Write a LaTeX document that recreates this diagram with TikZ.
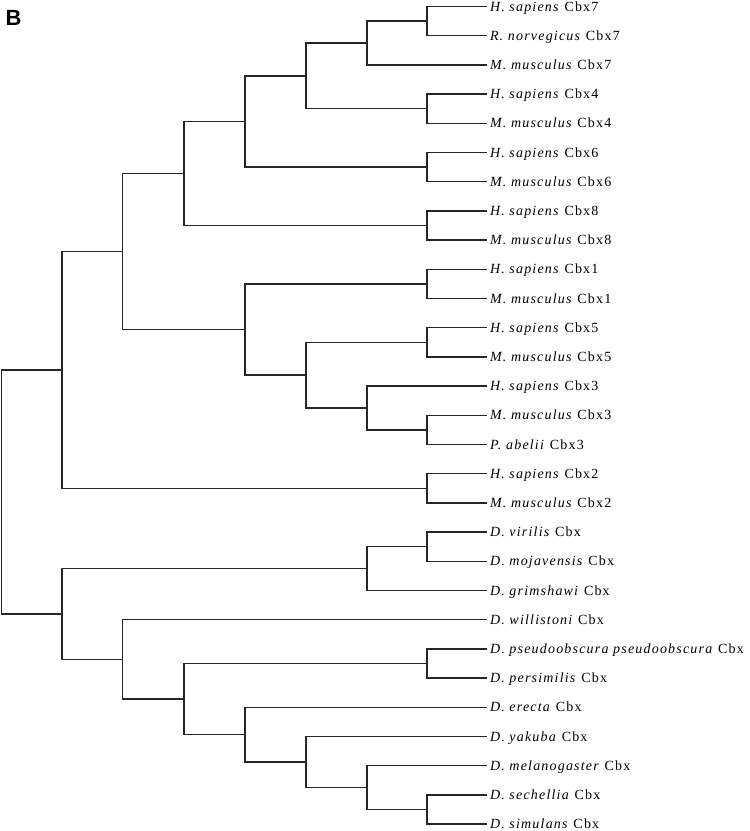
\documentclass[tikz,border=0pt]{standalone}
\usepackage{fontspec}
\setmainfont{Liberation Serif}
\newfontfamily\leaffont{Liberation Serif}[LetterSpace=8.5]
\newfontfamily\labfont{Liberation Sans}
\begin{document}
\begin{tikzpicture}[x=1pt,y=-29.2pt,
  branch/.style={line width=1.5pt,draw=black!85,line cap=rect,line join=miter},
  leaf/.style={anchor=west,inner sep=0pt,outer xsep=4pt,text height=9.3pt,text depth=0pt,
    font=\leaffont\fontsize{14}{16}\selectfont},
  panel/.style={anchor=base west,inner sep=0pt,font=\labfont\bfseries\fontsize{22}{24}\selectfont}]
\useasboundingbox (0,0) rectangle (750,{831/29.2});
\node[panel] (lab) at (5.5,0.856) {B};
\begin{scope}[yshift=-6.5pt]
% leaves
\foreach \i/\t in {
 0/{\textit{H. sapiens} Cbx7},
 1/{\textit{R. norvegicus} Cbx7},
 2/{\textit{M. musculus} Cbx7},
 3/{\textit{H. sapiens} Cbx4},
 4/{\textit{M. musculus} Cbx4},
 5/{\textit{H. sapiens} Cbx6},
 6/{\textit{M. musculus} Cbx6},
 7/{\textit{H. sapiens} Cbx8},
 8/{\textit{M. musculus} Cbx8},
 9/{\textit{H. sapiens} Cbx1},
 10/{\textit{M. musculus} Cbx1},
 11/{\textit{H. sapiens} Cbx5},
 12/{\textit{M. musculus} Cbx5},
 13/{\textit{H. sapiens} Cbx3},
 14/{\textit{M. musculus} Cbx3},
 15/{\textit{P. abelii} Cbx3},
 16/{\textit{H. sapiens} Cbx2},
 17/{\textit{M. musculus} Cbx2},
 18/{\textit{D. virilis} Cbx},
 19/{\textit{D. mojavensis} Cbx},
 20/{\textit{D. grimshawi} Cbx},
 21/{\textit{D. willistoni} Cbx},
 22/{\textit{D. pseudoobscura pseudoobscura} Cbx},
 23/{\textit{D. persimilis} Cbx},
 24/{\textit{D. erecta} Cbx},
 25/{\textit{D. yakuba} Cbx},
 26/{\textit{D. melanogaster} Cbx},
 27/{\textit{D. sechellia} Cbx},
 28/{\textit{D. simulans} Cbx}}
 {\node[leaf] (l\i) at (486,\i) {\t};}
% internal nodes
\coordinate (root) at (1.5,16.625);
\coordinate (A) at (62,12.4453125);
\coordinate (B) at (122.5,8.390625);
\coordinate (C) at (184,5.71875);
\coordinate (F) at (245,3.9375);
\coordinate (G) at (306,2.375);
\coordinate (H) at (367,1.25);
\coordinate (I) at (427,0.5);
\coordinate (P4) at (427,3.5);
\coordinate (P6) at (427,5.5);
\coordinate (P8) at (427,7.5);
\coordinate (E) at (245,11.0625);
\coordinate (P1) at (427,9.5);
\coordinate (J) at (306,12.625);
\coordinate (P5) at (427,11.5);
\coordinate (K) at (367,13.75);
\coordinate (L) at (427,14.5);
\coordinate (P2) at (427,16.5);
\coordinate (D) at (62,20.8046875);
\coordinate (M) at (367,19.25);
\coordinate (O) at (427,18.5);
\coordinate (N) at (122.5,22.359375);
\coordinate (P) at (184,23.71875);
\coordinate (Q) at (427,22.5);
\coordinate (R) at (245,24.9375);
\coordinate (S) at (306,25.875);
\coordinate (T) at (367,26.75);
\coordinate (U) at (427,27.5);
% branches
\draw[branch] (root) |- (A);
\draw[branch] (root) |- (D);
\draw[branch] (A) |- (B);
\draw[branch] (A) |- (P2);
\draw[branch] (P2) |- (l16.west);
\draw[branch] (P2) |- (l17.west);
\draw[branch] (B) |- (C);
\draw[branch] (B) |- (E);
\draw[branch] (C) |- (F);
\draw[branch] (C) |- (P8);
\draw[branch] (F) |- (G);
\draw[branch] (F) |- (P6);
\draw[branch] (G) |- (H);
\draw[branch] (G) |- (P4);
\draw[branch] (H) |- (I);
\draw[branch] (H) |- (l2.west);
\draw[branch] (I) |- (l0.west);
\draw[branch] (I) |- (l1.west);
\draw[branch] (P4) |- (l3.west);
\draw[branch] (P4) |- (l4.west);
\draw[branch] (P6) |- (l5.west);
\draw[branch] (P6) |- (l6.west);
\draw[branch] (P8) |- (l7.west);
\draw[branch] (P8) |- (l8.west);
\draw[branch] (E) |- (P1);
\draw[branch] (E) |- (J);
\draw[branch] (P1) |- (l9.west);
\draw[branch] (P1) |- (l10.west);
\draw[branch] (J) |- (P5);
\draw[branch] (J) |- (K);
\draw[branch] (P5) |- (l11.west);
\draw[branch] (P5) |- (l12.west);
\draw[branch] (K) |- (l13.west);
\draw[branch] (K) |- (L);
\draw[branch] (L) |- (l14.west);
\draw[branch] (L) |- (l15.west);
\draw[branch] (D) |- (M);
\draw[branch] (D) |- (N);
\draw[branch] (M) |- (O);
\draw[branch] (M) |- (l20.west);
\draw[branch] (O) |- (l18.west);
\draw[branch] (O) |- (l19.west);
\draw[branch] (N) |- (l21.west);
\draw[branch] (N) |- (P);
\draw[branch] (P) |- (Q);
\draw[branch] (P) |- (R);
\draw[branch] (Q) |- (l22.west);
\draw[branch] (Q) |- (l23.west);
\draw[branch] (R) |- (l24.west);
\draw[branch] (R) |- (S);
\draw[branch] (S) |- (l25.west);
\draw[branch] (S) |- (T);
\draw[branch] (T) |- (l26.west);
\draw[branch] (T) |- (U);
\draw[branch] (U) |- (l27.west);
\draw[branch] (U) |- (l28.west);
\end{scope}
\end{tikzpicture}
\end{document}
